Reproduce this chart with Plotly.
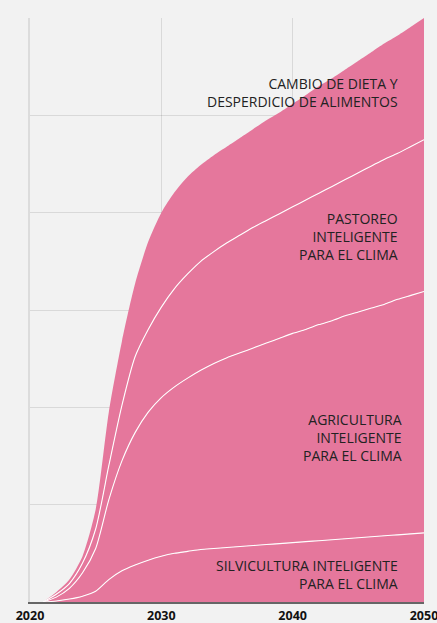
import plotly.graph_objects as go

years = list(range(2021, 2051))

# Stacked components
silvicultura = [0, .01, .03, .06, .11, .23, .32, .38, .43, .47, .50, .52, .54, .55, .56,
                .57, .58, .59, .60, .61, .62, .63, .64, .65, .66, .67, .68, .69, .70, .71]
agricultura = [0, .04, .11, .24, .44, .82, 1.13, 1.36, 1.52, 1.63, 1.71, 1.78, 1.84, 1.90, 1.95,
               1.99, 2.03, 2.07, 2.11, 2.15, 2.18, 2.22, 2.25, 2.29, 2.32, 2.35, 2.38, 2.42, 2.45, 2.48]
pastoreo = [0, .03, .05, .10, .20, .35, .57, .78, .85, .93, 1.01, 1.07, 1.12, 1.15, 1.18,
            1.21, 1.24, 1.26, 1.28, 1.30, 1.33, 1.35, 1.38, 1.40, 1.43, 1.46, 1.49, 1.50, 1.53, 1.56]
dieta = [0, .02, .04, .07, .20, .55, .66, .75, .90, .97, .99, 1.00, .99, .99, .99,
         1.00, 1.01, 1.03, 1.04, 1.06, 1.08, 1.10, 1.11, 1.13, 1.15, 1.17, 1.19, 1.21, 1.23, 1.25]

tick_years = [2020, 2030, 2040, 2050]
tick_labels = ["2020", "2030", "2040", "2050"]

# label text, right x (year), centre y (value)
labels = [
    ("SILVICULTURA INTELIGENTE<br>PARA EL CLIMA", 2048.2, 0.28),
    ("AGRICULTURA<br>INTELIGENTE<br>PARA EL CLIMA", 2048.5, 1.69),
    ("PASTOREO<br>INTELIGENTE<br>PARA EL CLIMA", 2048.2, 3.76),
    ("CAMBIO DE DIETA Y<br>DESPERDICIO DE ALIMENTOS", 2048.2, 5.23),
]

PINK = "#e5779c"
BG = "#f2f2f2"

fig = go.Figure()
series = [("Silvicultura", silvicultura), ("Agricultura", agricultura),
          ("Pastoreo", pastoreo), ("Dieta", dieta)]
for i, (name, vals) in enumerate(series):
    top = i == len(series) - 1
    fig.add_trace(go.Scatter(
        x=years, y=vals, name=name, stackgroup="one", mode="lines",
        fillcolor=PINK,
        line=dict(color=PINK if top else "white", width=0 if top else 1.1,
                  shape="spline", smoothing=0.7),
        hoverinfo="skip", showlegend=False,
    ))

for text, x, y in labels:
    fig.add_annotation(x=x, y=y, xref="x", yref="y", text=text, showarrow=False,
                       xanchor="right", yanchor="middle", align="right",
                       font=dict(family="Open Sans", size=14, color="#222222"))

fig.update_layout(
    width=437, height=623,
    margin=dict(l=30, r=13, t=18, b=21, autoexpand=False),
    paper_bgcolor=BG, plot_bgcolor=BG,
    xaxis=dict(range=[2020, 2050], tickvals=tick_years, ticktext=tick_labels,
               showgrid=True, gridcolor="rgba(0,0,0,0.1)", gridwidth=1,
               layer="above traces", zeroline=False, automargin=False,
               showline=True, linecolor="#666666", linewidth=2,
               ticks="", ticklen=0, ticklabelstandoff=1, ticklabeloverflow="allow",
               tickfont=dict(family="Open Sans", size=12.5, color="#111111", weight="bold")),
    yaxis=dict(range=[0, 6], dtick=1, showticklabels=False, automargin=False,
               showgrid=True, gridcolor="rgba(0,0,0,0.1)", gridwidth=1,
               layer="above traces", zeroline=False,
               showline=True, linecolor="#dcdcdc", linewidth=2),
    showlegend=False,
)

fig.write_html("out.html", config={"displayModeBar": False},
               post_script="document.body.style.margin='0';document.body.style.background='#f2f2f2';")
